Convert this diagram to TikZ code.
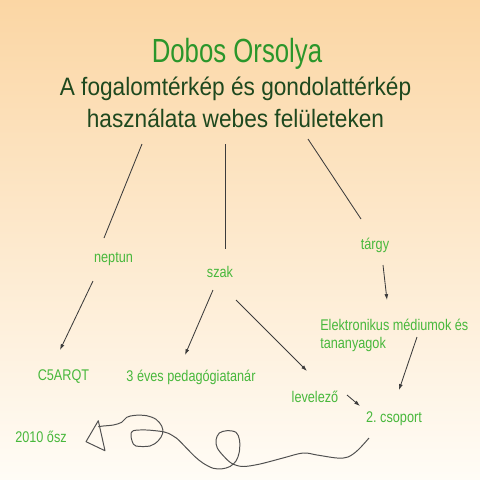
\documentclass[tikz,border=0pt]{standalone}
\usepackage{fontspec}
\setmainfont{Liberation Sans}
\newfontfamily\namefont[FakeStretch=0.77]{Liberation Sans}
\newfontfamily\titlefont[FakeStretch=0.9]{Liberation Sans}
\newfontfamily\lblfont[FakeStretch=0.82]{Liberation Sans}
\usepackage{xcolor}
\definecolor{namegreen}{RGB}{43,150,43}
\definecolor{titlegreen}{RGB}{30,72,30}
\definecolor{lblgreen}{RGB}{72,184,60}
\definecolor{peach}{RGB}{251,214,164}
\definecolor{cream}{RGB}{255,252,246}
\definecolor{linegray}{RGB}{60,60,60}
\usepackage{tikz}
\usetikzlibrary{arrows.meta, positioning}
\frenchspacing

\begin{document}
\begin{tikzpicture}[x=0.025cm, y=-0.025cm,
    titlelbl/.style={anchor=base, inner sep=0pt, text=titlegreen,
        font=\titlefont\fontsize{17.9}{21}\selectfont},
    lbl/.style={anchor=base, inner sep=0pt, text=lblgreen,
        font=\lblfont\fontsize{11}{12.8}\selectfont},
    conn/.style={draw=linegray, line width=0.6pt},
    arr/.style={conn, -{Latex[length=4.2pt,width=2.8pt]}},
    doodle/.style={draw=linegray!90, line width=0.7pt, line join=round}]

        % Background
        \useasboundingbox (0,0) rectangle (480,480);
        \fill[top color=peach, bottom color=cream] (0,0) rectangle (480,480);

        % Title
        \node[anchor=base, inner sep=0pt, text=namegreen,
            font=\namefont\fontsize{23.8}{28}\selectfont] (name) at (237,62) {Dobos Orsolya};
        \node[titlelbl] (title) at (235.5,95) {A fogalomtérkép és gondolattérkép};
        \node[titlelbl] (sub) at (235.5,127) {használata webes felületeken};

        % Concepts
        \node[lbl] (neptun) at (113.5,262) {neptun};
        \node[lbl] (szak) at (220,277) {szak};
        \node[lbl] (targy) at (375,249) {tárgy};
        \node[lbl, anchor=north west, align=left] (elek) at (320,318.7)
            {Elektronikus médiumok és\\tananyagok};
        \node[lbl] (c5arqt) at (63.5,380) {C5ARQT};
        \node[lbl] (ped) at (191,381) {3 éves pedagógiatanár};
        \node[lbl] (lev) at (315,402) {levelező};
        \node[lbl] (csop) at (394,422) {2. csoport};
        \node[lbl] (osz) at (41,442) {2010 ősz};

        % Links from the title
        \draw[conn] ([shift={(-93.5,17)}]sub.base) -- ([shift={(-9.5,-24)}]neptun.base);
        \draw[conn] ([shift={(-10.5,17)}]sub.base) -- ([shift={(5,-28)}]szak.base);
        \draw[conn] ([shift={(72.5,12)}]sub.base) -- ([shift={(-14,-30)}]targy.base);

        % Arrows down to the values
        \draw[arr] ([shift={(-20.5,19)}]neptun.base) -- ([shift={(-3.5,-30)}]c5arqt.base);
        \draw[arr] ([shift={(-7,13)}]szak.base) -- ([shift={(-6,-26)}]ped.base);
        \draw[arr] ([shift={(16,23)}]szak.base) -- ([shift={(-8,-31)}]lev.base);
        \draw[arr] ([shift={(8,16)}]targy.base) -- ([shift={(67,-18.7)}]elek.north west);
        \draw[arr] ([shift={(97,18.3)}]elek.north west) -- ([shift={(5,-32)}]csop.base);
        \draw[arr] ([shift={(32,-7)}]lev.base) -- ([shift={(-34,-16)}]csop.base);

        % Hand-drawn arrow to the semester
        \draw[doodle] plot[smooth, tension=0.55] coordinates {
            (369,438) (358,450) (348,457) (337,458) (317,455) (303,453)
            (283,458) (260,464) (243,466.5) (232,463.5) (224,456.5)
            (217.3,448) (216,440) (219.3,433) (227,430.7) (236,432.3)
            (239.5,440) (239.3,452) (236,461) (230,466.5) (222,468.8)
            (213.3,468.3) (203.3,463.3) (195,456.7) (186.7,448.3)
            (176.7,438.3) (168.3,433.3) (163.3,431.7) (146.7,430)
            (133.3,430.7) (131,435) (132.3,441.7) (136,446) (150,446)
            (158.3,440.7) (162.7,433.3) (161.7,426) (156,419.3)
            (146.7,415.7) (135,415.3) (126.7,417.3) (121.7,422.3)
            (113.3,425) (103.3,426) (98.3,426.7)};
        \draw[doodle] (98.3,420.7) -- (86,441.7) -- (105,450.7) -- cycle;

\end{tikzpicture}
\end{document}
